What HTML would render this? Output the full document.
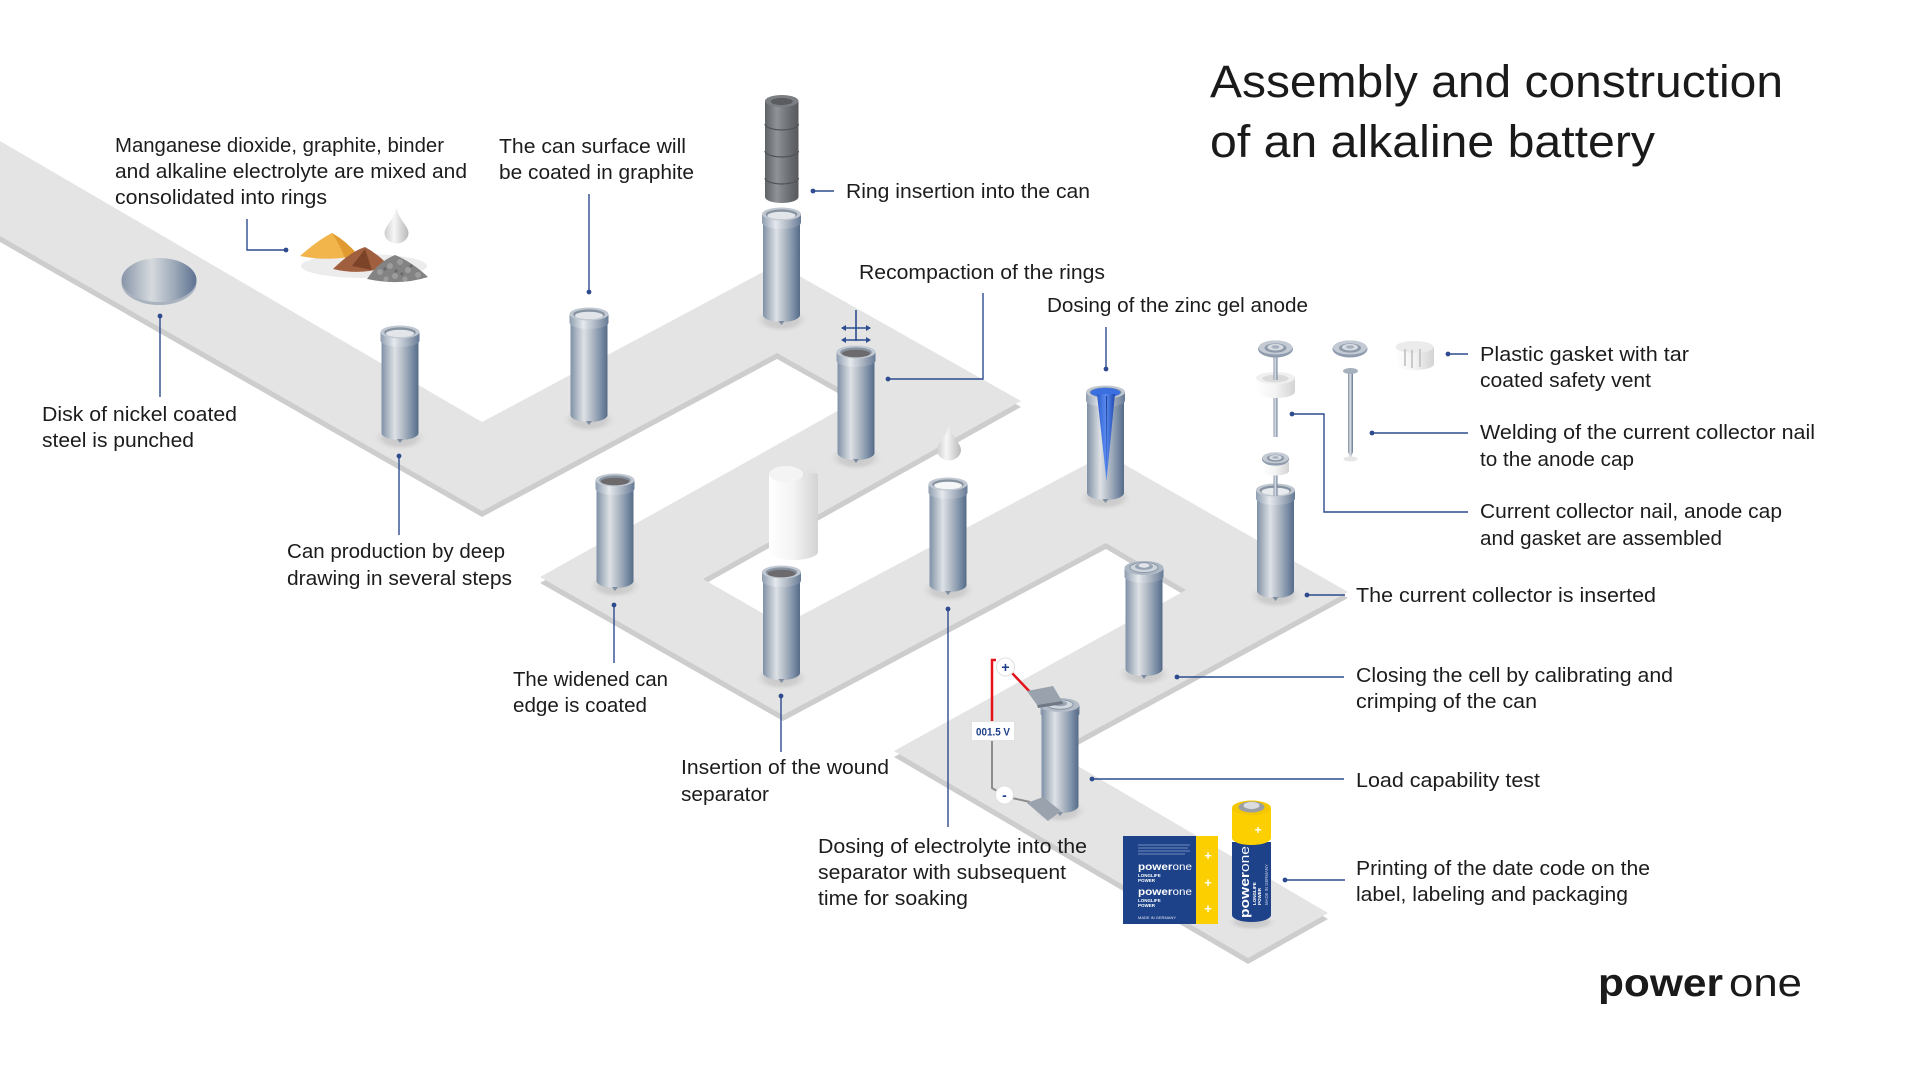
<!DOCTYPE html>
<html><head><meta charset="utf-8"><style>
html,body{margin:0;padding:0;background:#fff;}
body{width:1920px;height:1080px;overflow:hidden;}
svg{display:block;}
text{font-family:"Liberation Sans",sans-serif;}
.l{font-size:20px;fill:#1c1c1c;}
.t{font-size:45px;fill:#1a1a1a;}
.c{stroke:#2d4b8e;stroke-width:1.4;fill:none;}
.d{fill:#2d4b8e;}
</style></head><body>
<svg width="1920" height="1080" viewBox="0 0 1920 1080" xmlns="http://www.w3.org/2000/svg">
<defs>
<linearGradient id="cg" x1="0" x2="1" y1="0" y2="0">
<stop offset="0" stop-color="#7f90a6"/><stop offset="0.14" stop-color="#a6b1be"/><stop offset="0.36" stop-color="#dde1e6"/><stop offset="0.58" stop-color="#b1bac5"/><stop offset="0.82" stop-color="#7c8fa7"/><stop offset="1" stop-color="#566b88"/>
</linearGradient>
<linearGradient id="rg" x1="0" x2="1">
<stop offset="0" stop-color="#8e9db0"/><stop offset="0.35" stop-color="#e6e9ed"/><stop offset="0.7" stop-color="#a4afbd"/><stop offset="1" stop-color="#667a96"/>
</linearGradient>
<linearGradient id="ringg" x1="0" x2="1">
<stop offset="0" stop-color="#5e6165"/><stop offset="0.35" stop-color="#8f9296"/><stop offset="0.7" stop-color="#6d7074"/><stop offset="1" stop-color="#55585c"/>
</linearGradient>
<linearGradient id="wg" x1="0" x2="1">
<stop offset="0" stop-color="#ffffff"/><stop offset="0.5" stop-color="#f3f3f3"/><stop offset="1" stop-color="#d3d3d3"/>
</linearGradient>
<linearGradient id="diskg" x1="0" x2="1">
<stop offset="0" stop-color="#8795a8"/><stop offset="0.4" stop-color="#d6dade"/><stop offset="0.7" stop-color="#9eaaba"/><stop offset="1" stop-color="#5d7190"/>
</linearGradient>
<linearGradient id="dropg" x1="0" x2="1">
<stop offset="0" stop-color="#cfcfcf"/><stop offset="0.4" stop-color="#f6f6f6"/><stop offset="1" stop-color="#b8b8b8"/>
</linearGradient>
<linearGradient id="blueg" x1="0" x2="1">
<stop offset="0" stop-color="#2b5ccc"/><stop offset="0.5" stop-color="#5a8bf0"/><stop offset="1" stop-color="#2149b0"/>
</linearGradient>
<linearGradient id="nailg" x1="0" x2="1">
<stop offset="0" stop-color="#7d8ca0"/><stop offset="0.45" stop-color="#dfe3e8"/><stop offset="1" stop-color="#60748f"/>
</linearGradient>
<radialGradient id="shd" cx="0.5" cy="0.5" r="0.5">
<stop offset="0" stop-color="#c6c6c6"/><stop offset="0.6" stop-color="#cfcfcf"/><stop offset="1" stop-color="#e4e4e4" stop-opacity="0"/>
</radialGradient>
<g id="can">
<ellipse cx="0" cy="113" rx="28" ry="13" fill="url(#shd)"/>
<path d="M-18.5,7 V108 A18.5,7 0 0 0 18.5,108 V7 Z" fill="url(#cg)"/>
<path d="M-3,114 L0,118 L3,114 Z" fill="#7f8da0"/>
<path d="M-19.5,7 V15.5 A19.5,6.5 0 0 0 19.5,15.5 V7 Z" fill="url(#rg)"/>
<ellipse cx="0" cy="7" rx="19.5" ry="6.5" fill="#c1c8d1"/>
<ellipse cx="0" cy="7.3" rx="15.8" ry="4.9" fill="#8893a1"/>
</g>
<g id="cap">
<ellipse cx="0" cy="0" rx="17.5" ry="8.5" fill="#8f9cad"/>
<ellipse cx="0" cy="-1.5" rx="17" ry="7" fill="#c3cad3"/>
<ellipse cx="0" cy="-1" rx="11" ry="4.6" fill="#8e9aa9"/>
<ellipse cx="0" cy="-1.8" rx="8" ry="3.3" fill="#d7dce2"/>
<ellipse cx="0" cy="-2" rx="4" ry="1.7" fill="#a7b1bd"/>
</g>
</defs>

<!-- conveyor band -->
<g transform="translate(0,6)">
<polygon fill="#cdcdcd" points="0,141 482,422 778,264 1021,401 703,579 783,625 1106,454 1348,592 1054,752 1328,913 1248,958 894,751 1186,590 1106,543 783,715 540,577 859,399 777,353 482,511 0,236"/>
</g>
<polygon fill="#e4e4e4" points="0,141 482,422 778,264 1021,401 703,579 783,625 1106,454 1348,592 1054,752 1328,913 1248,958 894,751 1186,590 1106,543 783,715 540,577 859,399 777,353 482,511 0,236"/>

<!-- title -->
<text class="t" x="1210" y="97" textLength="573" lengthAdjust="spacingAndGlyphs">Assembly and construction</text>
<text class="t" x="1210" y="157" textLength="445" lengthAdjust="spacingAndGlyphs">of an alkaline battery</text>

<!-- disk -->
<ellipse cx="159" cy="283" rx="37.5" ry="22" fill="#aab3bf"/>
<ellipse cx="159" cy="280" rx="37.5" ry="22" fill="url(#diskg)"/>

<!-- piles -->
<ellipse cx="364" cy="266" rx="63" ry="12" fill="#ececec"/>
<path d="M300,256 Q318,240 332,233 Q346,241 358,255 Q330,262 300,256 Z" fill="#f1b54b"/>
<path d="M332,233 Q340,245 345,258 L358,255 Q346,241 332,233Z" fill="#e09a30"/>
<path d="M333,269 Q350,252 365,247 Q378,254 389,266 Q362,276 333,269 Z" fill="#a0603f"/>
<path d="M352,266 L365,249 L372,270 Z" fill="#7d4328"/>
<path d="M367,279 Q378,262 395,255 Q412,262 428,277 Q400,286 367,279 Z" fill="#838383"/>
<g fill="#9c9c9c"><circle cx="380" cy="272" r="3"/><circle cx="390" cy="266" r="3"/><circle cx="400" cy="262" r="3"/><circle cx="408" cy="270" r="3"/><circle cx="418" cy="275" r="3"/><circle cx="395" cy="276" r="3"/><circle cx="386" cy="279" r="2.5"/><circle cx="405" cy="279" r="2.5"/></g>
<g fill="#6a6a6a"><circle cx="385" cy="269" r="1.6"/><circle cx="396" cy="271" r="1.6"/><circle cx="411" cy="266" r="1.6"/><circle cx="402" cy="274" r="1.6"/></g>
<path d="M396.5,208 C398.5,219 408.5,226 408.5,233 A12,10.5 0 0 1 384.5,233 C384.5,226 394.5,219 396.5,208 Z" fill="url(#dropg)"/>

<!-- ring stack -->
<path d="M765,101 V197 A16.75,6 0 0 0 798.5,197 V101 Z" fill="url(#ringg)"/>
<g stroke="#4f5256" stroke-width="1.2" fill="none">
<path d="M765,124 A16.75,6 0 0 0 798.5,124"/><path d="M765,151 A16.75,6 0 0 0 798.5,151"/><path d="M765,178 A16.75,6 0 0 0 798.5,178"/></g>
<ellipse cx="781.75" cy="101" rx="16.75" ry="6" fill="#7b7e82"/>
<ellipse cx="781.75" cy="101.5" rx="11" ry="3.6" fill="#5b5c5f"/>

<!-- cans -->
<use href="#can" transform="translate(400,325)"/>
<ellipse cx="400" cy="333.5" rx="14" ry="3.8" fill="#e2e6ea"/>
<use href="#can" transform="translate(589,307)"/>
<ellipse cx="589" cy="315.5" rx="14" ry="3.8" fill="#e2e6ea"/>
<use href="#can" transform="translate(781.5,207)"/>
<ellipse cx="781.5" cy="215.5" rx="14" ry="3.8" fill="#e2e6ea"/>
<use href="#can" transform="translate(856,345)"/>
<ellipse cx="856" cy="353.5" rx="14" ry="3.8" fill="#6c6a6d"/>
<use href="#can" transform="translate(615,473)"/>
<ellipse cx="615" cy="481.5" rx="14" ry="3.8" fill="#6c6a6d"/>
<use href="#can" transform="translate(781.5,565)"/>
<ellipse cx="781.5" cy="573.5" rx="14" ry="3.8" fill="#6c6a6d"/>
<use href="#can" transform="translate(948,477)"/>
<ellipse cx="948" cy="485.5" rx="14" ry="3.8" fill="#f4f6f8"/>
<use href="#can" transform="translate(1105.5,385)"/>
<ellipse cx="1105.5" cy="392.5" rx="15" ry="4.6" fill="#3b6fe0"/>
<path d="M1097,394 L1115,394 L1106.5,481 Z" fill="url(#blueg)"/>
<path d="M1106,396 L1107,396 L1106.6,478 Z" fill="#1e3f8f"/>
<use href="#can" transform="translate(1275.5,483)"/>
<ellipse cx="1275.5" cy="491.5" rx="14" ry="3.8" fill="#e8ebee"/>
<!-- closed cell J -->
<use href="#can" transform="translate(1144,561)"/>
<ellipse cx="1144" cy="568" rx="19.5" ry="7" fill="#aeb8c4"/>
<ellipse cx="1144" cy="567.5" rx="14" ry="5" fill="#cfd5dc" stroke="#8a97a8" stroke-width="1"/>
<ellipse cx="1144" cy="566.5" rx="9" ry="3.4" fill="#97a3b2"/>
<ellipse cx="1144" cy="565.5" rx="5.5" ry="2.2" fill="#e2e6ea"/>
<!-- load test K -->
<use href="#can" transform="translate(1060,698)"/>
<path d="M1041.5,710 V805 A18.5,7 0 0 0 1078.5,805 V710 Z" fill="url(#cg)"/>
<ellipse cx="1060" cy="705" rx="19" ry="7" fill="#b3bcc7"/>
<ellipse cx="1060" cy="704.5" rx="13" ry="4.8" fill="#d3d8de" stroke="#8a97a8" stroke-width="1"/>
<ellipse cx="1060" cy="703.5" rx="7" ry="2.8" fill="#9aa5b3"/>

<!-- separator roll -->
<path d="M769,474 V552 A24.5,8 0 0 0 818,552 V470 C812,466 806,468 803,474 Z" fill="url(#wg)"/>
<ellipse cx="786" cy="474" rx="17" ry="8" fill="#f4f4f4"/>
<path d="M803,474 C806,468 812,466 818,470 L818,474 C812,472 807,474 803,478 Z" fill="#e2e2e2"/>

<!-- drop 2 -->
<path d="M949,425 C951,436 961,443 961,450 A12,10.5 0 0 1 937,450 C937,443 947,436 949,425 Z" fill="url(#dropg)"/>

<!-- recompaction arrows -->
<g stroke="#2d4b8e" stroke-width="1.6" fill="none">
<line x1="856" y1="310" x2="856" y2="341"/>
<line x1="843" y1="328" x2="869" y2="328"/>
<line x1="843" y1="340" x2="869" y2="340"/>
</g>
<g fill="#2d4b8e">
<path d="M841,328 L846,325 L846,331Z"/><path d="M871,328 L866,325 L866,331Z"/>
<path d="M841,340 L846,337 L846,343Z"/><path d="M871,340 L866,337 L866,343Z"/>
</g>

<!-- top right parts -->
<rect x="1273.5" y="355" width="4" height="82" fill="url(#nailg)"/>
<use href="#cap" transform="translate(1275.5,349)"/>
<path d="M1256,378 V392 A19.5,6 0 0 0 1295,392 V378 Z" fill="url(#wg)"/>
<ellipse cx="1275.5" cy="378" rx="19.5" ry="6" fill="#efefef"/>
<ellipse cx="1275.5" cy="378.5" rx="13" ry="3.8" fill="#dadada"/>
<rect x="1273.5" y="372" width="4" height="8" fill="url(#nailg)"/>
<ellipse cx="1350.5" cy="459" rx="7" ry="2.5" fill="#e6e6e6"/>
<path d="M1348,373 V452 L1350.5,458 L1353,452 V373 Z" fill="url(#nailg)"/>
<ellipse cx="1350.5" cy="371" rx="7.5" ry="3" fill="#a6b0bd"/>
<use href="#cap" transform="translate(1350,349)"/>
<path d="M1395.5,347 V364 A19,6 0 0 0 1434,364 V347 Z" fill="url(#wg)"/>
<ellipse cx="1414.5" cy="347" rx="19" ry="6" fill="#ebebeb"/>
<g stroke="#bdbdbd" stroke-width="1.5"><line x1="1405" y1="349" x2="1405" y2="366"/><line x1="1412" y1="350" x2="1412" y2="368"/><line x1="1420" y1="349" x2="1420" y2="367"/></g>
<!-- nail into can I -->
<rect x="1273.5" y="470" width="4" height="26" fill="url(#nailg)"/>
<path d="M1262,462 V471 A13.5,4.5 0 0 0 1289,471 V462 Z" fill="url(#wg)"/>
<use href="#cap" transform="translate(1275.5,459) scale(0.78)"/>

<!-- voltmeter -->
<path d="M992,721 V660 H996" stroke="#e3131b" stroke-width="2.5" fill="none"/>
<line x1="1012" y1="673" x2="1030" y2="692" stroke="#e3131b" stroke-width="2.5"/>
<path d="M1027,691 L1053,686 L1062,701 L1037,705 Z" fill="#9aa3ad"/>
<path d="M1037,705 L1062,701 L1063,704 L1038,708 Z" fill="#6f7884"/>
<path d="M992,740 V788 L997,791" stroke="#8d8d8d" stroke-width="2" fill="none"/>
<line x1="1012" y1="798" x2="1030" y2="802" stroke="#8d8d8d" stroke-width="2"/>
<path d="M1027,803 L1043,797 L1061,811 L1048,821 Z" fill="#9aa3ad"/>
<circle cx="1005.5" cy="667" r="9" fill="#fff" stroke="#e0e0e0" stroke-width="1"/>
<text x="1005.5" y="672" font-size="14" font-weight="bold" fill="#1e3f8a" text-anchor="middle">+</text>
<circle cx="1004.5" cy="795" r="9" fill="#fff" stroke="#e0e0e0" stroke-width="1"/>
<text x="1004.5" y="800" font-size="14" font-weight="bold" fill="#1e3f8a" text-anchor="middle">-</text>
<rect x="971.5" y="721.5" width="43" height="19" fill="#fff" stroke="#e2e2e2" stroke-width="1"/>
<text x="993" y="735.5" font-size="11" font-weight="bold" fill="#1e3f8a" text-anchor="middle" textLength="34" lengthAdjust="spacingAndGlyphs">001.5 V</text>

<!-- package -->
<rect x="1123" y="836" width="73" height="88" fill="#1d4289"/>
<rect x="1196" y="836" width="22" height="88" fill="#fcd000"/>
<g fill="#fff" font-weight="bold" font-size="13" text-anchor="middle"><text x="1208" y="860">+</text><text x="1208" y="887">+</text><text x="1208" y="913">+</text></g>
<g stroke="#8ea3cc" stroke-width="0.8"><line x1="1138" y1="845" x2="1190" y2="845"/><line x1="1138" y1="848" x2="1188" y2="848"/><line x1="1138" y1="851" x2="1190" y2="851"/><line x1="1138" y1="854" x2="1185" y2="854"/></g>
<text x="1138" y="870" font-size="10" fill="#fff" textLength="54" lengthAdjust="spacingAndGlyphs"><tspan font-weight="bold">power</tspan>one</text>
<text x="1138" y="877" font-size="4.5" font-weight="bold" fill="#fff">LONGLIFE</text>
<text x="1138" y="882" font-size="4.5" font-weight="bold" fill="#fff">POWER</text>
<text x="1138" y="895" font-size="10" fill="#fff" textLength="54" lengthAdjust="spacingAndGlyphs"><tspan font-weight="bold">power</tspan>one</text>
<text x="1138" y="902" font-size="4.5" font-weight="bold" fill="#fff">LONGLIFE</text>
<text x="1138" y="907" font-size="4.5" font-weight="bold" fill="#fff">POWER</text>
<text x="1138" y="919" font-size="4" fill="#dfe6f3">MADE IN GERMANY</text>

<!-- battery -->
<ellipse cx="1252" cy="922" rx="26" ry="9" fill="url(#shd)"/>
<path d="M1232,842 V915 A19.5,7 0 0 0 1271,915 V842 Z" fill="#1d4289"/>
<path d="M1232,808 V838 A19.5,7 0 0 0 1271,838 V808 Z" fill="#fcd000"/>
<ellipse cx="1251.5" cy="808" rx="19.5" ry="7.5" fill="#f4c800"/>
<ellipse cx="1251.5" cy="807" rx="13" ry="5.5" fill="#9b9ea3"/>
<ellipse cx="1251.5" cy="805.5" rx="8" ry="3.6" fill="#d9dbde"/>
<text x="1258" y="834" font-size="12" font-weight="bold" fill="#fff" text-anchor="middle">+</text>
<text transform="translate(1249,918) rotate(-90)" font-size="13" fill="#fff" textLength="72" lengthAdjust="spacingAndGlyphs"><tspan font-weight="bold">power</tspan>one</text>
<text transform="translate(1256,905) rotate(-90)" font-size="4.5" font-weight="bold" fill="#fff">LONGLIFE</text>
<text transform="translate(1261,905) rotate(-90)" font-size="4.5" font-weight="bold" fill="#fff">POWER</text>
<text transform="translate(1268,905) rotate(-90)" font-size="4.3" fill="#c9d3e8">MADE IN GERMANY</text>

<!-- connectors -->
<polyline class="c" points="247,219 247,250 286,250"/><circle class="d" cx="286" cy="250" r="2.4"/>
<line class="c" x1="589" y1="194" x2="589" y2="292"/><circle class="d" cx="589" cy="292" r="2.4"/>
<line class="c" x1="813" y1="191" x2="834" y2="191"/><circle class="d" cx="813" cy="191" r="2.4"/>
<polyline class="c" points="983,293 983,379 888,379"/><circle class="d" cx="888" cy="379" r="2.4"/>
<line class="c" x1="1106" y1="327" x2="1106" y2="369"/><circle class="d" cx="1106" cy="369" r="2.4"/>
<line class="c" x1="160" y1="316" x2="160" y2="397"/><circle class="d" cx="160" cy="316" r="2.4"/>
<line class="c" x1="399" y1="456" x2="399" y2="535"/><circle class="d" cx="399" cy="456" r="2.4"/>
<line class="c" x1="614" y1="605" x2="614" y2="663"/><circle class="d" cx="614" cy="605" r="2.4"/>
<line class="c" x1="781" y1="696" x2="781" y2="752"/><circle class="d" cx="781" cy="696" r="2.4"/>
<line class="c" x1="948" y1="609" x2="948" y2="827"/><circle class="d" cx="948" cy="609" r="2.4"/>
<line class="c" x1="1448" y1="354" x2="1468" y2="354"/><circle class="d" cx="1448" cy="354" r="2.4"/>
<line class="c" x1="1372" y1="433" x2="1468" y2="433"/><circle class="d" cx="1372" cy="433" r="2.4"/>
<polyline class="c" points="1292,414 1324,414 1324,512 1468,512"/><circle class="d" cx="1292" cy="414" r="2.4"/>
<line class="c" x1="1307" y1="595" x2="1345" y2="595"/><circle class="d" cx="1307" cy="595" r="2.4"/>
<line class="c" x1="1177" y1="677" x2="1344" y2="677"/><circle class="d" cx="1177" cy="677" r="2.4"/>
<line class="c" x1="1092" y1="779" x2="1344" y2="779"/><circle class="d" cx="1092" cy="779" r="2.4"/>
<line class="c" x1="1285" y1="880" x2="1345" y2="880"/><circle class="d" cx="1285" cy="880" r="2.4"/>

<!-- labels -->
<g class="l">
<text class="l" x="115" y="152" textLength="329" lengthAdjust="spacingAndGlyphs">Manganese dioxide, graphite, binder</text>
<text class="l" x="115" y="178" textLength="352" lengthAdjust="spacingAndGlyphs">and alkaline electrolyte are mixed and</text>
<text class="l" x="115" y="204" textLength="212" lengthAdjust="spacingAndGlyphs">consolidated into rings</text>
<text class="l" x="499" y="153" textLength="187" lengthAdjust="spacingAndGlyphs">The can surface will</text>
<text class="l" x="499" y="179" textLength="195" lengthAdjust="spacingAndGlyphs">be coated in graphite</text>
<text class="l" x="846" y="198" textLength="244" lengthAdjust="spacingAndGlyphs">Ring insertion into the can</text>
<text class="l" x="859" y="279" textLength="246" lengthAdjust="spacingAndGlyphs">Recompaction of the rings</text>
<text class="l" x="1047" y="312" textLength="261" lengthAdjust="spacingAndGlyphs">Dosing of the zinc gel anode</text>
<text class="l" x="42" y="421" textLength="195" lengthAdjust="spacingAndGlyphs">Disk of nickel coated</text>
<text class="l" x="42" y="447" textLength="152" lengthAdjust="spacingAndGlyphs">steel is punched</text>
<text class="l" x="287" y="558" textLength="218" lengthAdjust="spacingAndGlyphs">Can production by deep</text>
<text class="l" x="287" y="585" textLength="225" lengthAdjust="spacingAndGlyphs">drawing in several steps</text>
<text class="l" x="513" y="686" textLength="155" lengthAdjust="spacingAndGlyphs">The widened can</text>
<text class="l" x="513" y="712" textLength="134" lengthAdjust="spacingAndGlyphs">edge is coated</text>
<text class="l" x="681" y="774" textLength="208" lengthAdjust="spacingAndGlyphs">Insertion of the wound</text>
<text class="l" x="681" y="801" textLength="88" lengthAdjust="spacingAndGlyphs">separator</text>
<text class="l" x="818" y="853" textLength="269" lengthAdjust="spacingAndGlyphs">Dosing of electrolyte into the</text>
<text class="l" x="818" y="879" textLength="248" lengthAdjust="spacingAndGlyphs">separator with subsequent</text>
<text class="l" x="818" y="905" textLength="150" lengthAdjust="spacingAndGlyphs">time for soaking</text>
<text class="l" x="1480" y="361" textLength="209" lengthAdjust="spacingAndGlyphs">Plastic gasket with tar</text>
<text class="l" x="1480" y="387" textLength="171" lengthAdjust="spacingAndGlyphs">coated safety vent</text>
<text class="l" x="1480" y="439" textLength="335" lengthAdjust="spacingAndGlyphs">Welding of the current collector nail</text>
<text class="l" x="1480" y="466" textLength="154" lengthAdjust="spacingAndGlyphs">to the anode cap</text>
<text class="l" x="1480" y="518" textLength="302" lengthAdjust="spacingAndGlyphs">Current collector nail, anode cap</text>
<text class="l" x="1480" y="545" textLength="242" lengthAdjust="spacingAndGlyphs">and gasket are assembled</text>
<text class="l" x="1356" y="602" textLength="300" lengthAdjust="spacingAndGlyphs">The current collector is inserted</text>
<text class="l" x="1356" y="682" textLength="317" lengthAdjust="spacingAndGlyphs">Closing the cell by calibrating and</text>
<text class="l" x="1356" y="708" textLength="181" lengthAdjust="spacingAndGlyphs">crimping of the can</text>
<text class="l" x="1356" y="787" textLength="184" lengthAdjust="spacingAndGlyphs">Load capability test</text>
<text class="l" x="1356" y="875" textLength="294" lengthAdjust="spacingAndGlyphs">Printing of the date code on the</text>
<text class="l" x="1356" y="901" textLength="272" lengthAdjust="spacingAndGlyphs">label, labeling and packaging</text>
</g>

<!-- logo -->
<text x="1598" y="996" font-size="39" font-weight="bold" fill="#1a1a1a" textLength="125" lengthAdjust="spacingAndGlyphs">power</text>
<text x="1729" y="996" font-size="39" fill="#1a1a1a" textLength="73" lengthAdjust="spacingAndGlyphs">one</text>
</svg>
</body></html>
